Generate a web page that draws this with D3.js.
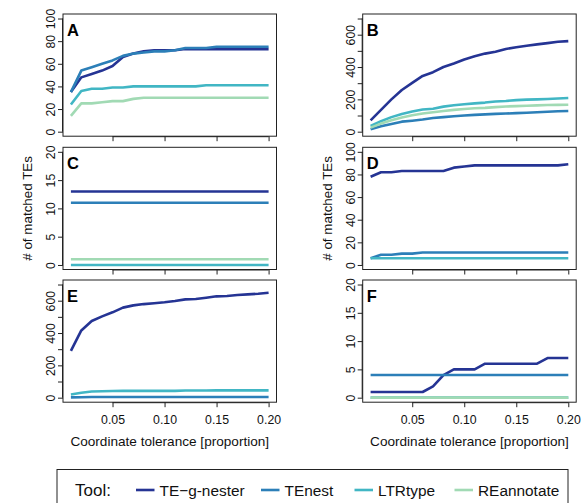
<!DOCTYPE html>
<html>
<head>
<meta charset="utf-8">
<script src="https://cdn.jsdelivr.net/npm/d3@7"></script>
<style>
  html, body { margin: 0; padding: 0; background: #fff; }
  svg { display: block; font-family: "Liberation Sans", Arial, Helvetica, sans-serif; }
</style>
</head>
<body>
<svg id="chart" width="583" height="503"></svg>
<script>
// Coordinate tolerance values shared by every panel
const tolerance = [0.01, 0.02, 0.03, 0.04, 0.05, 0.06, 0.07, 0.08, 0.09, 0.10,
                   0.11, 0.12, 0.13, 0.14, 0.15, 0.16, 0.17, 0.18, 0.19, 0.20];
const xTicks = [0.05, 0.10, 0.15, 0.20];

const tools = ["TE\u2212g-nester", "TEnest", "LTRtype", "REannotate"];
const toolColors = ["#253494", "#2c7fb8", "#41b6c4", "#a1dab4"];

// Panel A
const aTEgnester = [35, 48, 51, 54, 58, 66, 69, 71, 72, 72, 72, 73, 73, 73, 73, 73, 73, 73, 73, 73];
const aTEnest    = [35, 54, 57, 60, 63, 67, 69, 70, 71, 71, 72, 74, 74, 74, 75, 75, 75, 75, 75, 75];
const aLTRtype   = [24, 36, 38, 38, 39, 39, 40, 40, 40, 40, 40, 40, 40, 41, 41, 41, 41, 41, 41, 41];
const aREannot   = [14, 25, 25, 26, 27, 27, 29, 30, 30, 30, 30, 30, 30, 30, 30, 30, 30, 30, 30, 30];

// Panel B
const bTEgnester = [70, 135, 200, 258, 302, 345, 368, 400, 422, 447, 466, 483, 495, 512, 522, 532, 540, 548, 556, 560];
const bTEnest    = [15, 33, 48, 62, 68, 75, 85, 90, 95, 100, 104, 107, 110, 112, 115, 117, 120, 123, 126, 128];
const bLTRtype   = [35, 65, 90, 110, 125, 137, 142, 155, 163, 170, 175, 180, 187, 190, 195, 198, 200, 202, 205, 208];
const bREannot   = [25, 50, 70, 88, 102, 112, 120, 128, 135, 140, 145, 147, 152, 156, 158, 160, 163, 165, 166, 167];

// Panel C
const cTEgnester = [13, 13, 13, 13, 13, 13, 13, 13, 13, 13, 13, 13, 13, 13, 13, 13, 13, 13, 13, 13];
const cTEnest    = [11, 11, 11, 11, 11, 11, 11, 11, 11, 11, 11, 11, 11, 11, 11, 11, 11, 11, 11, 11];
const cLTRtype   = [0, 0, 0, 0, 0, 0, 0, 0, 0, 0, 0, 0, 0, 0, 0, 0, 0, 0, 0, 0];
const cREannot   = [1, 1, 1, 1, 1, 1, 1, 1, 1, 1, 1, 1, 1, 1, 1, 1, 1, 1, 1, 1];

// Panel D
const dTEgnester = [78, 82, 82, 83, 83, 83, 83, 83, 86, 87, 88, 88, 88, 88, 88, 88, 88, 88, 88, 89];
const dTEnest    = [6, 9, 9, 10, 10, 11, 11, 11, 11, 11, 11, 11, 11, 11, 11, 11, 11, 11, 11, 11];
const dLTRtype   = [6, 6, 6, 6, 6, 6, 6, 6, 6, 6, 6, 6, 6, 6, 6, 6, 6, 6, 6, 6];
const dREannot   = [];

// Panel E
const eTEgnester = [289, 416, 474, 503, 528, 557, 571, 579, 584, 590, 598, 608, 610, 618, 627, 629, 635, 639, 643, 649];
const eTEnest    = [2, 3, 4, 4, 4, 4, 4, 4, 4, 4, 4, 4, 4, 4, 4, 4, 4, 4, 4, 4];
const eLTRtype   = [20, 30, 38, 40, 41, 42, 42, 42, 42, 42, 42, 44, 44, 44, 45, 45, 45, 45, 45, 45];
const eREannot   = [];

// Panel F
const fTEgnester = [1, 1, 1, 1, 1, 1, 2, 4, 5, 5, 5, 6, 6, 6, 6, 6, 6, 7, 7, 7];
const fTEnest    = [4, 4, 4, 4, 4, 4, 4, 4, 4, 4, 4, 4, 4, 4, 4, 4, 4, 4, 4, 4];
const fLTRtype   = [0, 0, 0, 0, 0, 0, 0, 0, 0, 0, 0, 0, 0, 0, 0, 0, 0, 0, 0, 0];
const fREannot   = [0, 0, 0, 0, 0, 0, 0, 0, 0, 0, 0, 0, 0, 0, 0, 0, 0, 0, 0, 0];

// Y axis ticks and their labels per panel
const ticksPct = [0, 20, 40, 60, 80, 100];
const labelsPct = ["0", "20", "40", "60", "80", "100"];
const ticksLarge = [0, 100, 200, 300, 400, 500, 600, 700];
const labelsLarge = ["0", "", "200", "", "400", "", "600", ""];
const ticksSmall = [0, 5, 10, 15, 20];
const labelsSmall = ["0", "5", "10", "15", "20"];

const panels = [
  { letter: "A", col: 0, row: 0, ymax: 100, ticks: ticksPct, labels: labelsPct, series: [aTEgnester, aTEnest, aLTRtype, aREannot] },
  { letter: "B", col: 1, row: 0, ymax: 700, ticks: ticksLarge, labels: labelsLarge, series: [bTEgnester, bTEnest, bLTRtype, bREannot] },
  { letter: "C", col: 0, row: 1, ymax: 20, ticks: ticksSmall, labels: labelsSmall, series: [cTEgnester, cTEnest, cLTRtype, cREannot] },
  { letter: "D", col: 1, row: 1, ymax: 100, ticks: ticksPct, labels: labelsPct, series: [dTEgnester, dTEnest, dLTRtype, dREannot] },
  { letter: "E", col: 0, row: 2, ymax: 700, ticks: ticksLarge, labels: labelsLarge, series: [eTEgnester, eTEnest, eLTRtype, eREannot] },
  { letter: "F", col: 1, row: 2, ymax: 20, ticks: ticksSmall, labels: labelsSmall, series: [fTEgnester, fTEnest, fLTRtype, fREannot] }
];

// Layout
const colLeft = [63, 362.7];
const rowTop = [14, 147.3, 280];
const panelW = 213.5;
const panelH = 122.2;

const svg = d3.select("#chart");
const fontTick = 12.3;

panels.forEach(p => {
  const x0 = colLeft[p.col], y0 = rowTop[p.row];
  const g = svg.append("g").attr("transform", `translate(${x0},${y0})`);

  // R-style 4% padding on both axes
  const xPad = (0.20 - 0.01) * 0.04;
  const x = d3.scaleLinear().domain([0.01 - xPad, 0.20 + xPad]).range([0, panelW]);
  const y = d3.scaleLinear().domain([-0.04 * p.ymax, 1.04 * p.ymax]).range([panelH, 0]);

  // series lines
  const line = d3.line().x((d, i) => x(tolerance[i])).y(d => y(d));
  p.series.forEach((vals, k) => {
    if (!vals.length) return;
    g.append("path")
      .datum(vals)
      .attr("d", line)
      .attr("fill", "none")
      .attr("stroke", toolColors[k])
      .attr("stroke-width", 2.6)
      .attr("stroke-linejoin", "round");
  });

  // frame
  g.append("rect")
    .attr("x", 0).attr("y", 0).attr("width", panelW).attr("height", panelH)
    .attr("fill", "none").attr("stroke", "#222").attr("stroke-width", 1);

  // y axis with rotated labels
  const labelOf = new Map(p.ticks.map((t, i) => [t, p.labels[i]]));
  const yAxis = d3.axisLeft(y).tickValues(p.ticks).tickSize(5).tickSizeOuter(0)
    .tickFormat(d => labelOf.get(d));
  const ya = g.append("g").call(yAxis);
  ya.select(".domain").attr("d", `M-0.5,${y(p.ticks[0])}V${y(p.ticks[p.ticks.length - 1])}`).attr("stroke", "#222");
  ya.selectAll(".tick line").attr("stroke", "#222");
  ya.selectAll(".tick text")
    .attr("x", null).attr("dy", null)
    .attr("transform", "translate(-8,0) rotate(-90)")
    .attr("text-anchor", "middle")
    .attr("fill", "#111")
    .style("font-size", fontTick + "px")
    .style("font-family", "'Liberation Sans', Arial, sans-serif");

  // x axis ticks; labels only on the bottom row
  const xAxis = d3.axisBottom(x).tickValues(xTicks).tickSize(5).tickSizeOuter(0).tickPadding(8.5)
    .tickFormat(p.row === 2 ? d3.format(".2f") : () => "");
  const xa = g.append("g").attr("transform", `translate(0,${panelH})`).call(xAxis);
  xa.select(".domain").attr("d", `M${x(xTicks[0])},0.5H${x(xTicks[xTicks.length - 1])}`).attr("stroke", "#222");
  xa.selectAll(".tick line").attr("stroke", "#222");
  xa.selectAll(".tick text")
    .attr("fill", "#111")
    .style("font-size", fontTick + "px")
    .style("font-family", "'Liberation Sans', Arial, sans-serif");

  // panel letter
  g.append("text")
    .attr("x", 4).attr("y", 21.5)
    .attr("font-weight", "bold")
    .attr("font-size", 16.5)
    .attr("fill", "#000")
    .text(p.letter);
});

// axis titles
["# of matched TEs", "# of matched TEs"].forEach((t, i) => {
  const bx = [32, 332][i];
  svg.append("text")
    .attr("transform", `translate(${bx},${rowTop[1] + panelH / 2}) rotate(-90)`)
    .attr("text-anchor", "middle")
    .attr("font-size", 13.4)
    .attr("fill", "#111")
    .text(t);
});
[0, 1].forEach(c => {
  svg.append("text")
    .attr("x", colLeft[c] + panelW / 2)
    .attr("y", 446)
    .attr("text-anchor", "middle")
    .attr("font-size", 13.6)
    .attr("fill", "#111")
    .text("Coordinate tolerance [proportion]");
});

// legend
const legend = svg.append("g");
legend.append("rect")
  .attr("x", 57).attr("y", 469.5).attr("width", 511).attr("height", 50)
  .attr("fill", "#fff").attr("stroke", "#222").attr("stroke-width", 1);
legend.append("text")
  .attr("x", 75).attr("y", 496)
  .attr("font-size", 17)
  .attr("fill", "#111")
  .text("Tool:");
const legendX = [136, 261, 354.5, 454.5];
tools.forEach((name, i) => {
  legend.append("line")
    .attr("x1", legendX[i]).attr("x2", legendX[i] + 18.5)
    .attr("y1", 490).attr("y2", 490)
    .attr("stroke", toolColors[i]).attr("stroke-width", 2.6);
  legend.append("text")
    .attr("x", legendX[i] + 23.5).attr("y", 495.5)
    .attr("font-size", 15.4)
    .attr("fill", "#111")
    .text(name);
});
</script>
</body>
</html>
